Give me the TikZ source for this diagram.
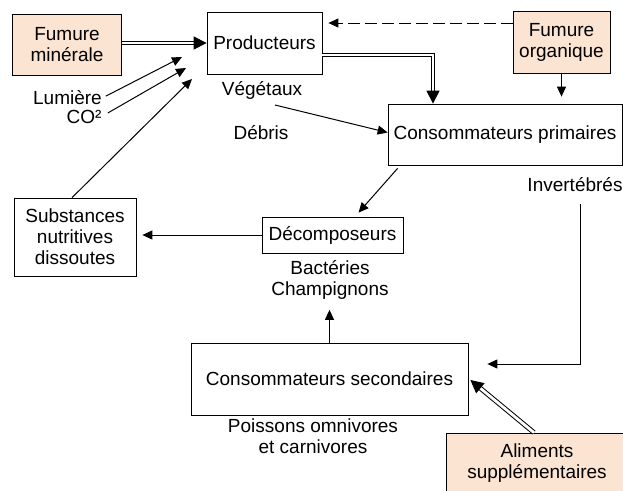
\documentclass[tikz,border=0pt]{standalone}
\usepackage{fontspec}
\setmainfont{Liberation Sans}
\usetikzlibrary{arrows.meta}

\definecolor{peche}{RGB}{252,228,210}

\tikzset{every picture/.style={line width=0.75pt}}
\tikzset{
	boite/.style={draw, rectangle, inner sep=0pt, align=center},
	etiquette/.style={inner sep=0pt, align=center},
	fleche/.style={-{Triangle[length=10pt,width=9pt]}, line width=1pt},
	doublefleche/.style={-{Triangle[length=13pt,width=13pt]}, double, double distance=2.8pt, line width=1pt},
}

\begin{document}
\begin{tikzpicture}[x=1pt,y=1pt,yscale=-1,xscale=1,font=\fontsize{19}{21}\selectfont]
	\useasboundingbox (0,0) rectangle (623,490);
	
	%Shape: Rectangle [fumure minerale]
	\draw (67,45) node [boite, fill=peche, minimum width=109pt, minimum height=61pt] (fmin) {Fumure\\minérale};
	%Shape: Rectangle [producteurs]
	\draw (264.5,43) node [boite, minimum width=115pt, minimum height=62pt] (prod) {Producteurs};
	%Shape: Rectangle [fumure organique]
	\draw (561.5,42) node [boite, fill=peche, minimum width=97pt, minimum height=62pt] (forg) {Fumure\\organique};
	%Shape: Rectangle [consommateurs primaires]
	\draw (505,134.5) node [boite, minimum width=234pt, minimum height=61pt] (cprim) {Consommateurs primaires};
	%Shape: Rectangle [substances]
	\draw (75,237) node [boite, minimum width=122pt, minimum height=78pt] (subst) {Substances\\nutritives\\dissoutes};
	%Shape: Rectangle [decomposeurs]
	\draw (332.5,235) node [boite, minimum width=141pt, minimum height=36pt] (decomp) {Décomposeurs};
	%Shape: Rectangle [consommateurs secondaires]
	\draw (329.5,379) node [boite, minimum width=277pt, minimum height=72pt] (csec) {Consommateurs secondaires};
	%Shape: Rectangle [aliments]
	\draw (537,463) node [boite, fill=peche, minimum width=182pt, minimum height=60pt] (alim) {Aliments\\supplémentaires};
	
	% Text Node
	\draw (67.5,98) node [etiquette] (lum) {Lumière};
	% Text Node
	\draw (84,117) node [etiquette] (co2) {CO²};
	% Text Node
	\draw (262,90) node [etiquette] (veg) {Végétaux};
	% Text Node
	\draw (261,133) node [etiquette] (deb) {Débris};
	% Text Node
	\draw (575,185) node [etiquette] (inv) {Invertébrés};
	% Text Node
	\draw (330,280) node [etiquette] (micro) {Bactéries\\Champignons};
	% Text Node
	\draw (313,436) node [etiquette] (poiss) {Poissons omnivores\\et carnivores};
	
	% free ends
	\coordinate (lumfin) at (182,57);
	\coordinate (cofin) at (186,68);
	\coordinate (subfin) at (192,79);
	\coordinate (debris) at (275,105);
	
	%Straight Lines [apports]
	\draw [doublefleche] (fmin.east |- prod.west) -- (prod.west);
	\draw [fleche, dash pattern=on 12pt off 5pt, shorten >=6pt] ([yshift=-19pt]forg.west) -- ([yshift=-19pt]forg.west -| prod.east);
	\draw [fleche, shorten <=4pt] (lum.east) -- (lumfin);
	\draw [fleche] ([shift={(6pt,-4pt)}]co2.east) -- (cofin);
	\draw [fleche] ([xshift=-3pt]subst.north) -- (subfin);
	%Straight Lines [chaine]
	\draw [doublefleche] ([yshift=12pt]prod.east) -| ([xshift=-72pt]cprim.north);
	\draw [fleche, shorten >=7pt] (forg.south) -- (forg.south |- cprim.north);
	\draw [fleche] (debris) -- ([yshift=-2pt]cprim.west);
	\draw [fleche] ([xshift=10pt,yshift=3pt]cprim.south west) -- ([shift={(26pt,-4pt)}]decomp.north);
	\draw [fleche, shorten >=6pt] (decomp.west) -- (decomp.west -| subst.east);
	\draw [fleche, shorten >=10pt] (csec.north) -- (csec.north |- micro.south);
	\draw [fleche] ([xshift=5pt,yshift=12pt]inv.south) |- ([shift={(19pt,-15pt)}]csec.east);
	\draw [doublefleche] ([xshift=-3pt]alim.north) -- ([shift={(2pt,1pt)}]csec.east);
	
\end{tikzpicture}
\end{document}
